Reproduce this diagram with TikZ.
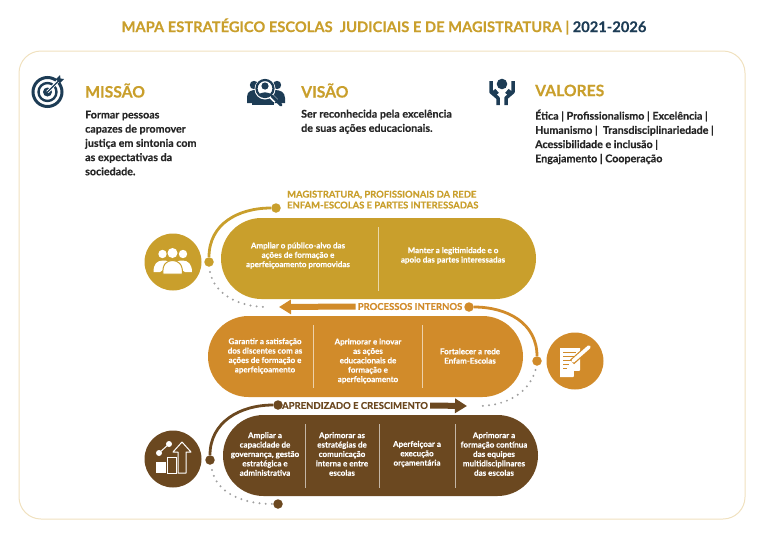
\documentclass[tikz,border=0pt]{standalone}
\usepackage{fontspec}
\setmainfont{Lato}[BoldFeatures={FakeBold=0.3}]
\usepackage{xcolor}
\usetikzlibrary{arrows.meta,positioning,calc,shapes.misc}
\definecolor{mapaGold}{HTML}{C99F2C}
\definecolor{mapaOrange}{HTML}{D18B2A}
\definecolor{mapaBrown}{HTML}{6B4820}
\definecolor{mapaNavy}{HTML}{1D3C55}
\definecolor{mapaRule}{HTML}{F0E1BF}
\definecolor{mapaDot}{HTML}{A0A0A0}

\begin{document}
\begin{tikzpicture}[
  x=1pt,y=-1pt,
  pill/.style={rounded rectangle,minimum width=315pt,minimum height=81pt,inner sep=0pt},
  pilltext/.style={text=white,align=center,inner sep=0pt,font=\fontsize{8}{9.4}\selectfont\bfseries},
  badge/.style={circle,minimum size=57pt,inner sep=0pt},
  heading/.style={anchor=west,inner sep=0pt,text=mapaGold,font=\fontsize{15.7}{18}\selectfont\bfseries},
  bodytext/.style={anchor=north west,align=left,inner sep=0pt,text=black!85,font=\fontsize{10.7}{14.2}\selectfont\bfseries},
  band/.style={inner sep=2pt,font=\fontsize{9.5}{11.5}\selectfont\bfseries},
  knob/.style={circle,minimum size=9.5pt,inner sep=0pt},
  link/.style={line width=2.8pt},
  dotline/.style={mapaDot,line width=2.2pt,line cap=round,dash pattern=on 0pt off 6.2pt},
  thickarrow/.style={line width=6pt,-{Triangle[length=12pt,width=14pt]}},
  divider/.style={white!60!#1,line width=0.9pt}
]
\useasboundingbox (0,0) rectangle (768,544);

% Title
\node[inner sep=0pt,font=\fontsize{14.7}{17}\selectfont\bfseries] (title) at (384,26.5)
  {\textcolor{mapaGold}{MAPA ESTRATÉGICO ESCOLAS\ \ JUDICIAIS E DE MAGISTRATURA |} \textcolor{mapaNavy}{2021-2026}};
\node[draw=mapaRule,line width=1pt,rounded corners=22pt,minimum width=726pt,minimum height=468pt] (panel) at (382,285) {};

% Top row
\node[heading] (missao) at (85,90.5) {MISSÃO};
\node[heading] (visao) at (301,90.5) {VISÃO};
\node[heading] (valores) at (535,90.5) {VALORES};
\node[bodytext] (missaotxt) at (85,110.5) {Formar pessoas\\capazes de promover\\justiça em sintonia com\\as expectativas da\\sociedade.};
\node[bodytext] (visaotxt) at (301,109.5) {Ser reconhecida pela excelência\\de suas ações educacionais.};
\node[bodytext] (valorestxt) at (535,109.5) {Ética | Profissionalismo | Excelência |\\Humanismo |\ \ Transdisciplinariedade |\\Acessibilidade e inclusão |\\Engajamento | Cooperação};

% Target icon
\draw[mapaNavy,line width=3pt] (47.5,92) circle (14.5);
\draw[mapaNavy,line width=2.4pt] (47.5,92) circle (9);
\fill[mapaNavy] (47.5,92) circle (4.5);
\draw[white,line width=3pt] (47.5,92) -- (58,81);
\draw[mapaNavy,line width=1.4pt] (47.5,92) -- (59,80.5);
\fill[mapaNavy] (56,79) -- (60,75) -- (60.5,78.5) -- (64,79) -- (60,83) -- cycle;

% Magnifier icon
\fill[mapaNavy] (254,85) circle (4.2) (277,85) circle (4.2);
\fill[mapaNavy] (247,103) -- (247,97) .. controls (247,91) and (252,90) .. (256,90) -- (275,90)
  .. controls (280,90) and (285,92) .. (285,98) -- (285,103) -- cycle;
\fill[white] (265,89) circle (10.5);
\draw[mapaNavy,line width=2.2pt] (265,88.5) circle (8.5);
\fill[mapaNavy] (265,86) circle (3.6);
\fill[mapaNavy] (258.5,96) .. controls (259,91) and (271,91) .. (271.5,96) -- cycle;
\draw[white,line width=5pt] (271,96) -- (276,101);
\draw[mapaNavy,line width=3pt,line cap=round] (272,96) -- (281,105);
\fill[mapaNavy] (252,105) rectangle (274,101.5);

% Hands icon
\fill[mapaNavy] (502,84) circle (5.3);
\foreach \s in {-1,1}
  \draw[mapaNavy,line width=3.5pt,line join=round,xshift=502pt,x=\s pt]
    (11,81) -- (11,92) -- (4,98) -- (4,105) (8,90) -- (4.5,94);

% Band one
\node[pill,fill=mapaGold] (pillone) at (378.5,258.5) {};
\node[badge,fill=mapaGold] (badgeone) at (173,262) {};
\node[knob,fill=mapaGold] (knobonea) at (209,262) {};
\node[knob,fill=mapaGold] (knoboneb) at (276,208) {};
\coordinate (dotoneend) at (268,307);
\draw[link,mapaGold] (knobonea) .. controls +(0,-38) and +(-38,0) .. (knoboneb);
\draw[dotline] (210,272) .. controls (214,292) and (235,307) .. (dotoneend);
\node[inner sep=0pt,anchor=north west,align=left,text=mapaGold,font=\fontsize{9.4}{10.9}\selectfont\bfseries] (bandone) at (287,190.5)
  {MAGISTRATURA, PROFISSIONAIS DA REDE\\ENFAM-ESCOLAS E PARTES INTERESSADAS};
\draw[divider=mapaGold] (378.5,227) -- (378.5,291);
\node[pilltext] (oneA) at (298,255.5) {Ampliar o público-alvo das\\ações de formação e\\aperfeiçoamento promovidas};
\node[pilltext] (oneB) at (453,255.5) {Manter a legitimidade e o\\apoio das partes interessadas};

% People icon
\fill[white] (162.5,254) circle (4.2) (183,254) circle (4.2) (172.5,253) circle (5);
\fill[white] (153.5,272) .. controls (153.5,264) and (157,260.5) .. (163,260.5) .. controls (168,260.5) and (170,262) .. (172,264) -- (160,272) -- cycle;
\fill[white] (192,272) .. controls (192,264) and (188,260.5) .. (182.5,260.5) .. controls (178,260.5) and (175,262) .. (173,264) -- (185,272) -- cycle;
\fill[white,draw=mapaGold,line width=1pt] (163,274) .. controls (162,264) and (167,260.5) .. (172.5,260.5) .. controls (178,260.5) and (183,264) .. (182.5,274) -- cycle;

% Band two
\node[pill,fill=mapaOrange] (pilltwo) at (365.5,356.5) {};
\node[badge,fill=mapaOrange] (badgetwo) at (575,361) {};
\node[knob,fill=mapaOrange] (knobtwoa) at (537,361) {};
\node[knob,fill=mapaOrange] (knobtwob) at (469,307) {};
\coordinate (dottwoend) at (478,406);
\coordinate (arrowtwoend) at (279,307);
\draw[link,mapaOrange] (knobtwoa) .. controls +(0,-38) and +(38,0) .. (knobtwob);
\draw[dotline] (535.5,370) .. controls (530,390) and (510,406) .. (dottwoend);
\node[band,text=mapaOrange] (bandtwo) at (410,306.5) {PROCESSOS INTERNOS};
\draw[thickarrow,mapaOrange] (bandtwo.west) -- (arrowtwoend);
\foreach \xd in {313,422}
  \draw[divider=mapaOrange] (\xd,325) -- (\xd,388);
\node[pilltext] (twoA) at (265,356) {Garantir a satisfação\\dos discentes com as\\ações de formação e\\aperfeiçoamento};
\node[pilltext] (twoB) at (368,361) {Aprimorar e inovar\\as ações\\educacionais de\\formação e\\aperfeiçoamento};
\node[pilltext] (twoC) at (470,356) {Fortalecer a rede\\Enfam-Escolas};

% Document icon
\fill[white] (560,348) -- (580,348) -- (580,370) -- (573,377) -- (560,377) -- cycle;
\draw[mapaOrange,line width=1.1pt] (563,352.5) -- (576,352.5) (563,356.5) -- (576,356.5) (563,360.5) -- (572,360.5) (563,364.5) -- (569,364.5) (563,368.5) -- (567,368.5);
\fill[mapaOrange] (580,371) -- (574,371) -- (574,377) -- cycle;
\draw[mapaOrange,line width=6pt] (572,362) -- (590,346);
\draw[white,line width=3.6pt,line cap=round] (573,361) -- (589,347);

% Band three
\node[pill,fill=mapaBrown] (pillthree) at (380.5,455.5) {};
\node[badge,fill=mapaBrown] (badgethree) at (173,459) {};
\node[knob,fill=mapaBrown] (knobthreea) at (210,460) {};
\node[knob,fill=mapaBrown] (knobthreeb) at (278,405) {};
\node[knob,fill=mapaBrown] (knobthreec) at (278,504) {};
\coordinate (arrowthreeend) at (467,406);
\draw[link,mapaBrown] (knobthreea) .. controls +(0,-38) and +(-38,0) .. (knobthreeb);
\draw[dotline] (212,470) .. controls (216,490) and (238,504) .. (knobthreec.west);
\node[band,text=mapaBrown] (bandthree) at (355,405.5) {APRENDIZADO E CRESCIMENTO};
\draw[thickarrow,mapaBrown] (bandthree.east) -- (arrowthreeend);
\foreach \xd in {305,379,455}
  \draw[divider=mapaBrown] (\xd,424) -- (\xd,488);
\node[pilltext] (threeA) at (265,454) {Ampliar a\\capacidade de\\governança, gestão\\estratégica e\\administrativa};
\node[pilltext] (threeB) at (342,454) {Aprimorar as\\estratégias de\\comunicação\\interna e entre\\escolas};
\node[pilltext] (threeC) at (417,454) {Aperfeiçoar a\\execução\\orçamentária};
\node[pilltext] (threeD) at (494,454) {Aprimorar a\\formação contínua\\das equipes\\multidisciplinares\\das escolas};

% Chart icon
\fill[white] (156,462) rectangle (166,473);
\draw[white,line width=1pt] (167,473) -- (167,457) -- (176,457) -- (176,473) -- cycle;
\draw[white,line width=1pt,line join=round] (178,473) -- (178,452) -- (173,452) -- (182,442) -- (191,452) -- (186,452) -- (186,473) -- cycle;
\draw[white,line width=1pt] (159,453) -- (169,444);
\fill[white] (159,453) circle (3) (169,444) circle (3);
\end{tikzpicture}
\end{document}
